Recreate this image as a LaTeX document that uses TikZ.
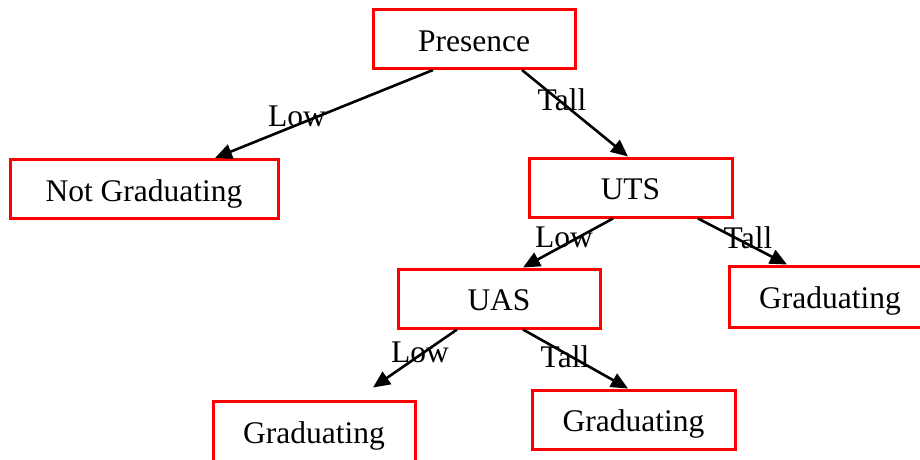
\documentclass[tikz,border=0pt]{standalone}
\usepackage{fontspec}
\setmainfont{Liberation Serif}
\usetikzlibrary{arrows.meta}
\begin{document}
\begin{tikzpicture}[x=1pt,y=-1pt,
  box/.style={draw=red,line width=3pt,fill=white,rectangle,inner sep=0pt,
    minimum height=59pt,text height=30pt,text depth=6pt,
    font=\fontsize{31.5}{36}\selectfont},
  lbl/.style={anchor=base,inner sep=0pt,font=\fontsize{31.5}{36}\selectfont},
  conn/.style={draw=black,line width=2.6pt,-{Triangle[length=17pt,width=15pt]}}]
\useasboundingbox (0,0) rectangle (920,459);
\fill[white] (0,0) rectangle (920,459);
\node[box,minimum width=202pt] (pres) at (474,39) {Presence};
\node[box,minimum width=268pt] (notg) at (144,189) {Not Graduating};
\node[box,minimum width=203pt] (uts) at (630.5,187.5) {UTS};
\node[box,minimum width=202pt] (uas) at (499,298.5) {UAS};
\node[box,minimum width=202pt,minimum height=61pt] (g1) at (830,296.5) {Graduating};
\node[box,minimum width=202pt,minimum height=60pt] (g2) at (314,431) {Graduating};
\node[box,minimum width=203pt] (g3) at (633.5,419.5) {Graduating};
\draw[conn] ([xshift=-41pt]pres.south) -- ([xshift=71pt]notg.north);
\draw[conn] ([xshift=48pt]pres.south) -- ([xshift=-2.5pt]uts.north);
\draw[conn] ([xshift=-17.5pt]uts.south) -- ([xshift=24pt]uas.north);
\draw[conn] ([xshift=67.5pt]uts.south) -- ([xshift=-43pt]g1.north);
\draw[conn] ([xshift=-42pt]uas.south) -- ([xshift=59pt,yshift=12pt]g2.north);
\draw[conn] ([xshift=24pt]uas.south) -- ([xshift=-5.5pt]g3.north);
\node[lbl] (l1) at (297,126) {Low};
\node[lbl] (l2) at (562,110) {Tall};
\node[lbl] (l3) at (564,247) {Low};
\node[lbl] (l4) at (748,248) {Tall};
\node[lbl] (l5) at (420,362) {Low};
\node[lbl] (l6) at (565,367) {Tall};
\end{tikzpicture}
\end{document}
